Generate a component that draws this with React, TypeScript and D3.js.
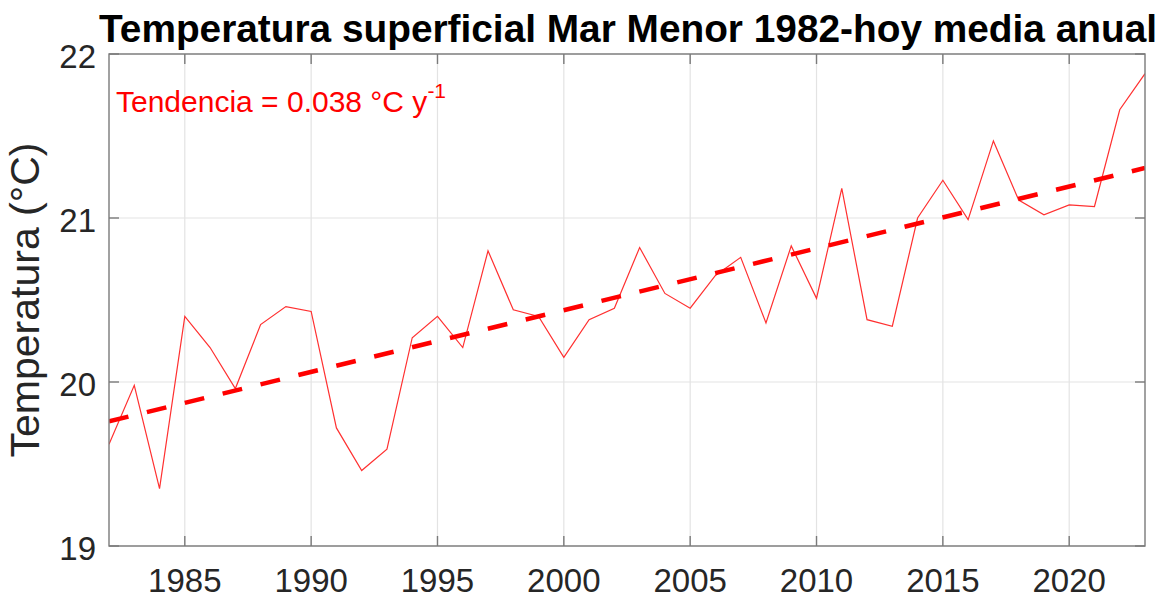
import React, { useEffect, useRef } from "react";
import * as d3 from "d3";

// annual mean sea surface temperature, Mar Menor
const years = [
  1982, 1983, 1984, 1985, 1986, 1987, 1988, 1989, 1990, 1991, 1992, 1993, 1994, 1995,
  1996, 1997, 1998, 1999, 2000, 2001, 2002, 2003, 2004, 2005, 2006, 2007, 2008, 2009,
  2010, 2011, 2012, 2013, 2014, 2015, 2016, 2017, 2018, 2019, 2020, 2021, 2022, 2023,
];
const temps = [
  19.62, 19.98, 19.35, 20.4, 20.21, 19.96, 20.35, 20.46, 20.43, 19.72, 19.46, 19.59, 20.27, 20.4,
  20.21, 20.8, 20.44, 20.4, 20.15, 20.38, 20.45, 20.82, 20.54, 20.45, 20.65, 20.76, 20.36, 20.83,
  20.51, 21.18, 20.38, 20.34, 21.0, 21.23, 20.99, 21.47, 21.11, 21.02, 21.08, 21.07, 21.66, 21.88,
];
const xTicks = [1985, 1990, 1995, 2000, 2005, 2010, 2015, 2020];
const yTicks = [19, 20, 21, 22];

const W = 1169;
const H = 599;
const margin = { left: 109, right: 1145, top: 54, bottom: 546 };

const App: React.FC = () => {
  const ref = useRef<SVGSVGElement | null>(null);

  useEffect(() => {
    if (!ref.current) return;
    const svg = d3.select(ref.current);
    svg.selectAll("*").remove();

    const x = d3.scaleLinear().domain([1982, 2023]).range([margin.left, margin.right]);
    const y = d3.scaleLinear().domain([19, 22]).range([margin.bottom, margin.top]);
    const axisColor = "#262626";
    const boxColor = "#7a7a7a";
    const font = "'Liberation Sans', Arial, Helvetica, sans-serif";

    // grid
    const grid = svg.append("g");
    xTicks.forEach(t => {
      grid.append("line")
        .attr("x1", x(t)).attr("x2", x(t))
        .attr("y1", margin.top).attr("y2", margin.bottom)
        .attr("stroke", "#e3e3e3").attr("stroke-width", 1.2);
    });
    yTicks.forEach(t => {
      grid.append("line")
        .attr("x1", margin.left).attr("x2", margin.right)
        .attr("y1", y(t)).attr("y2", y(t))
        .attr("stroke", "#e3e3e3").attr("stroke-width", 1.2);
    });

    // least-squares trend
    const mx = d3.mean(years)!;
    const my = d3.mean(temps)!;
    let num = 0, den = 0;
    years.forEach((yr, i) => { num += (yr - mx) * (temps[i] - my); den += (yr - mx) * (yr - mx); });
    const slope = num / den;
    const icpt = my - slope * mx;

    const line = d3.line<[number, number]>().x(d => x(d[0])).y(d => y(d[1]));
    const clipId = "plot-clip";
    svg.append("defs").append("clipPath").attr("id", clipId)
      .append("rect")
      .attr("x", margin.left).attr("y", margin.top)
      .attr("width", margin.right - margin.left).attr("height", margin.bottom - margin.top);

    const plot = svg.append("g").attr("clip-path", `url(#${clipId})`);
    plot.append("path")
      .attr("d", line(years.map((yr, i) => [yr, temps[i]] as [number, number])) || "")
      .attr("fill", "none")
      .attr("stroke", "#ff3030")
      .attr("stroke-width", 1.2);

    plot.append("path")
      .attr("d", line([[1982, icpt + slope * 1982], [2023, icpt + slope * 2023]]) || "")
      .attr("fill", "none")
      .attr("stroke", "#ff0000")
      .attr("stroke-width", 4.5)
      .attr("stroke-dasharray", "20 19");

    // box and ticks
    svg.append("rect")
      .attr("x", margin.left).attr("y", margin.top)
      .attr("width", margin.right - margin.left).attr("height", margin.bottom - margin.top)
      .attr("fill", "none").attr("stroke", boxColor).attr("stroke-width", 1.4);
    xTicks.forEach(t => {
      svg.append("line").attr("x1", x(t)).attr("x2", x(t))
        .attr("y1", margin.bottom).attr("y2", margin.bottom - 10)
        .attr("stroke", boxColor).attr("stroke-width", 1.4);
      svg.append("line").attr("x1", x(t)).attr("x2", x(t))
        .attr("y1", margin.top).attr("y2", margin.top + 10)
        .attr("stroke", boxColor).attr("stroke-width", 1.4);
      svg.append("text")
        .attr("x", x(t)).attr("y", 592)
        .attr("text-anchor", "middle")
        .attr("font-family", font).attr("font-size", 33)
        .attr("fill", axisColor)
        .text(t);
    });
    yTicks.forEach(t => {
      svg.append("line").attr("x1", margin.left).attr("x2", margin.left + 10)
        .attr("y1", y(t)).attr("y2", y(t))
        .attr("stroke", boxColor).attr("stroke-width", 1.4);
      svg.append("line").attr("x1", margin.right).attr("x2", margin.right - 10)
        .attr("y1", y(t)).attr("y2", y(t))
        .attr("stroke", boxColor).attr("stroke-width", 1.4);
      svg.append("text")
        .attr("x", 96).attr("y", y(t) + 14)
        .attr("text-anchor", "end")
        .attr("font-family", font).attr("font-size", 33)
        .attr("fill", axisColor)
        .text(t);
    });

    // y label
    svg.append("text")
      .attr("transform", `translate(39,${(margin.top + margin.bottom) / 2}) rotate(-90)`)
      .attr("text-anchor", "middle")
      .attr("font-family", font).attr("font-size", 41)
      .attr("fill", axisColor)
      .text("Temperatura (°C)");

    // title
    svg.append("text")
      .attr("x", 628).attr("y", 42)
      .attr("text-anchor", "middle")
      .attr("font-family", font).attr("font-size", 38).attr("font-weight", "bold")
      .attr("textLength", 1058).attr("lengthAdjust", "spacingAndGlyphs")
      .attr("fill", "#000")
      .text("Temperatura superficial Mar Menor 1982-hoy media anual");

    // trend annotation
    const ann = svg.append("text")
      .attr("x", 116).attr("y", 112)
      .attr("font-family", font).attr("font-size", 30)
      .attr("fill", "#ff0000");
    ann.append("tspan").text(`Tendencia = ${slope.toFixed(3)} °C y`);
    ann.append("tspan").attr("dy", -14).attr("font-size", 21).text("-1");
  }, []);

  return (
    <svg
      ref={ref}
      width={W}
      height={H}
      style={{ position: "absolute", left: 0, top: 0, background: "#fff" }}
    />
  );
};

export default App;
